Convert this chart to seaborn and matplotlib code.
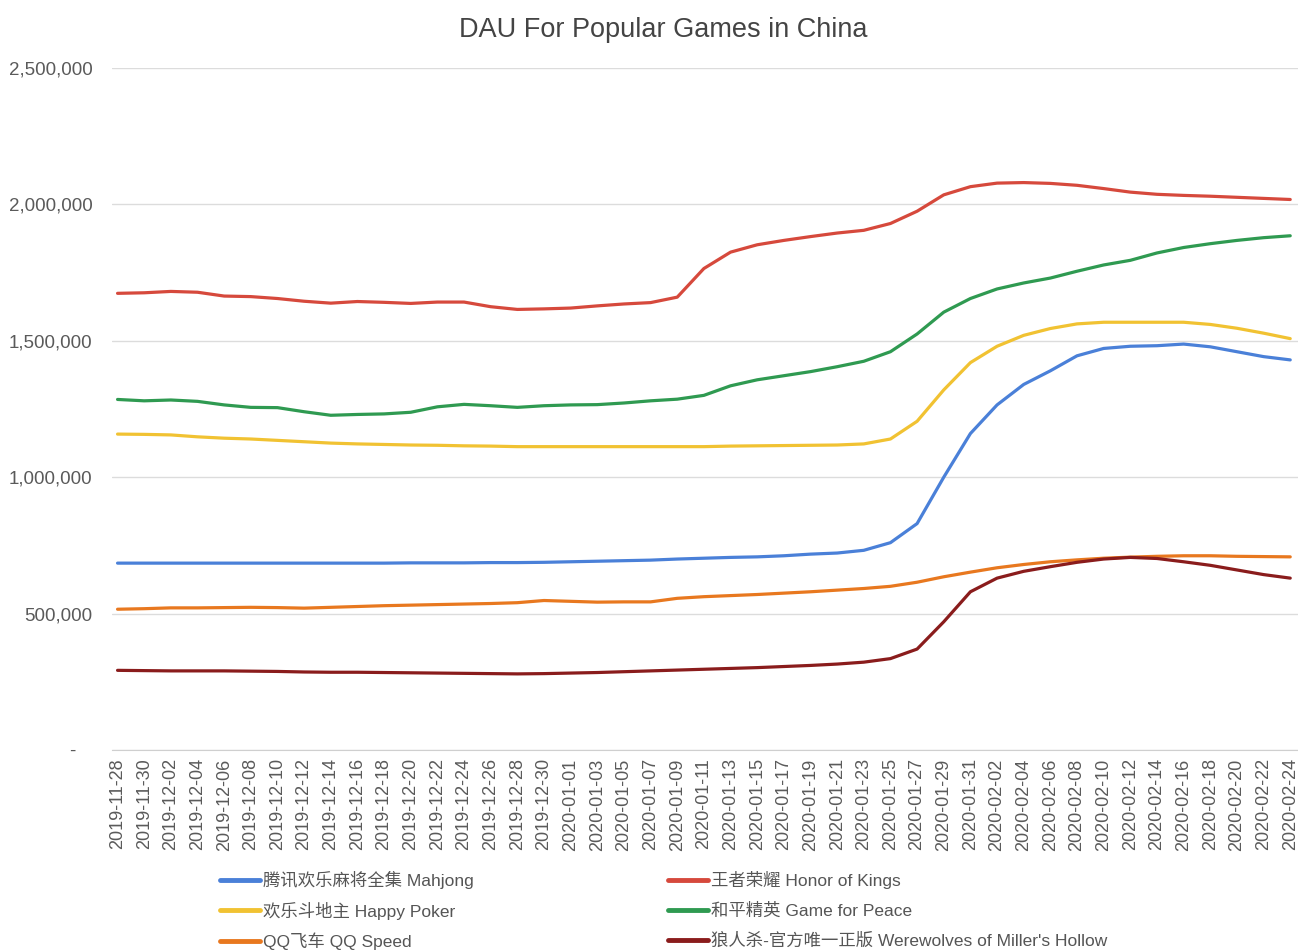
import pandas as pd
import seaborn as sns
import matplotlib.pyplot as plt
from matplotlib.lines import Line2D
from matplotlib.ticker import FuncFormatter

# ========= data (one point every 2 days) =========
dates = pd.date_range("2019-11-28", "2020-02-24", freq="2D")

mahjong = [685, 685, 685, 685, 685, 685, 685, 685, 685, 685, 685, 686, 686, 686, 687, 687, 688,
           690, 692, 694, 696, 700, 703, 706, 708, 712, 718, 722, 732, 760, 830, 1000, 1160,
           1265, 1340, 1390, 1445, 1472, 1480, 1482, 1488, 1478, 1460, 1442, 1430]
honor = [1674, 1676, 1681, 1678, 1664, 1662, 1655, 1645, 1638, 1644, 1641, 1637, 1642, 1642, 1625,
         1615, 1617, 1620, 1628, 1635, 1640, 1660, 1765, 1825, 1852, 1868, 1882, 1895, 1905, 1930,
         1975, 2035, 2065, 2078, 2080, 2077, 2070, 2058, 2045, 2037, 2033, 2030, 2026, 2022, 2018]
poker = [1158, 1157, 1155, 1148, 1143, 1140, 1135, 1130, 1125, 1122, 1120, 1118, 1117, 1115, 1114,
         1112, 1112, 1112, 1112, 1112, 1112, 1112, 1112, 1114, 1115, 1116, 1117, 1118, 1122, 1140,
         1205, 1320, 1420, 1480, 1520, 1545, 1562, 1568, 1568, 1568, 1568, 1560, 1546, 1528, 1508]
peace = [1285, 1280, 1283, 1278, 1265, 1256, 1255, 1240, 1227, 1230, 1232, 1238, 1258, 1267, 1262,
         1256, 1262, 1265, 1266, 1272, 1280, 1286, 1300, 1335, 1357, 1372, 1387, 1405, 1425, 1460,
         1525, 1605, 1655, 1690, 1712, 1730, 1755, 1778, 1795, 1822, 1842, 1856, 1868, 1878, 1885]
qq_speed = [516, 518, 521, 521, 522, 523, 522, 520, 523, 526, 529, 531, 533, 535, 537, 540, 548,
            545, 542, 543, 543, 556, 562, 566, 570, 575, 580, 586, 592, 600, 615, 635, 652, 668,
            680, 690, 697, 703, 707, 710, 712, 712, 710, 709, 708]
werewolves = [292, 291, 290, 290, 290, 289, 288, 286, 285, 285, 284, 283, 282, 281, 280, 279, 280,
              282, 284, 287, 290, 293, 296, 299, 302, 306, 310, 315, 322, 335, 370, 470, 580, 630,
              655, 672, 688, 700, 706, 702, 690, 677, 660, 643, 630]

names = ["腾讯欢乐麻将全集 Mahjong", "欢乐斗地主 Happy Poker", "QQ飞车 QQ Speed",
         "王者荣耀 Honor of Kings", "和平精英 Game for Peace", "狼人杀-官方唯一正版 Werewolves of Miller's Hollow"]
series = [mahjong, poker, qq_speed, honor, peace, werewolves]
colors = ["#4a80d8", "#f1c232", "#e8781f", "#d6493c", "#2f9a51", "#8a1c1c"]

frames = []
for name, vals in zip(names, series):
    frames.append(pd.DataFrame({"date": dates, "dau": [v * 1000 for v in vals], "game": name}))
df = pd.concat(frames, ignore_index=True)

# ========= style =========
sns.set_style("white")
plt.rcParams["font.family"] = ["Liberation Sans", "Noto Sans CJK SC", "DejaVu Sans"]

fig = plt.figure(figsize=(12.98, 9.51), dpi=100)
ax = fig.add_axes([112 / 1298, 1 - 750 / 951, (1298 - 112) / 1298, (750 - 68) / 951])

sns.lineplot(data=df, x="date", y="dau", hue="game", hue_order=names,
             palette=dict(zip(names, colors)), linewidth=2.3, ax=ax, legend=False)

ax.set_ylim(0, 2500000)
ax.set_yticks(range(0, 2500001, 500000))
ax.yaxis.set_major_formatter(FuncFormatter(lambda v, p: "-   " if v == 0 else f"{v:,.0f}"))
ax.set_xlim(dates[0] - pd.Timedelta(hours=10), dates[-1] + pd.Timedelta(hours=14))
ax.set_xticks(dates)
ax.set_xticklabels([d.strftime("%Y-%m-%d") for d in dates], rotation=90)
ax.set_xlabel("")
ax.set_ylabel("")

ax.grid(axis="y", color="#dcdcdc", linewidth=1)
for s in ["left", "right", "top"]:
    ax.spines[s].set_visible(False)
ax.spines["bottom"].set_color("#cfcfcf")
ax.tick_params(axis="y", length=0, pad=14, labelsize=13.5, labelcolor="#5a5a5a")
ax.tick_params(axis="x", length=0, pad=6, labelsize=13, labelcolor="#5a5a5a")

fig.text(663 / 1298, 1 - 30 / 951, "DAU For Popular Games in China",
         ha="center", va="center", fontsize=19.5, color="#444444")

# legend: 2 columns x 3 rows, each entry placed on its own so rows line up
rows_y = [880, 910.5, 941]
for i, (name, c) in enumerate(zip(names, colors)):
    x0 = 220 if i < 3 else 668
    y0 = rows_y[i % 3]
    fig.legend([Line2D([], [], color=c, linewidth=3.5)], [name], loc="center left",
               bbox_to_anchor=(x0 / 1298, 1 - y0 / 951), frameon=False, fontsize=12.5,
               labelcolor="#555555", borderpad=0, borderaxespad=0, handlelength=2.3,
               handletextpad=0.2)

plt.savefig("out.png", dpi=100)
